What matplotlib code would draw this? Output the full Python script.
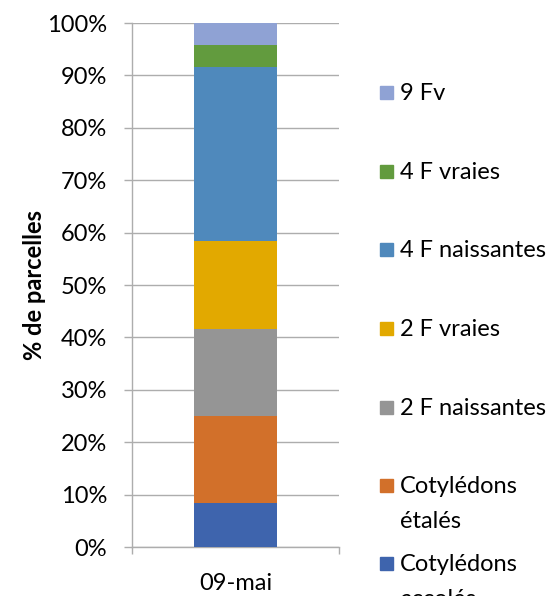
import matplotlib.pyplot as plt
from matplotlib.patches import Rectangle

# Stages, bottom to top, as % of plots (24 plots)
stages = ["Cotylédons\naccolés", "Cotylédons\nétalés", "2 F naissantes", "2 F vraies",
          "4 F naissantes", "4 F vraies", "9 Fv"]
values = [8.33, 16.67, 16.67, 16.67, 33.33, 4.17, 4.17]
colors = ["#3E64AD", "#D2702A", "#959595", "#E2A900", "#4F89BC", "#629B3E", "#8FA2D4"]
category = ["09-mai"]
yticks = list(range(0, 101, 10))

plt.rcParams["font.family"] = ["Lato", "DejaVu Sans"]
FS = 17

fig = plt.figure(figsize=(5.48, 5.96), dpi=100)
ax = fig.add_axes([0.2409, 0.0822, 0.3777, 0.8792])

bottom = 0
for v, c in zip(values, colors):
    ax.bar(0, v, bottom=bottom, width=0.4, color=c, zorder=3)
    bottom += v

grid_c = "#ADADAD"
ax.set_xlim(-0.5, 0.5)
ax.set_ylim(0, 100)
ax.set_yticks(yticks)
ax.set_yticklabels([f"{t}%" for t in yticks], fontsize=FS)
ax.yaxis.grid(True, color=grid_c, linewidth=1.0, zorder=0)
ax.tick_params(axis="y", length=5.8, color=grid_c, width=1.0, pad=12)
ax.set_xticks([0])
ax.set_xticklabels(category, fontsize=FS)
ax.tick_params(axis="x", length=0, pad=19)
for s in ["top", "right"]:
    ax.spines[s].set_visible(False)
for s in ["left", "bottom"]:
    ax.spines[s].set_color(grid_c)
    ax.spines[s].set_linewidth(1.0)
# category boundary ticks on x axis
ax.set_xticks([-0.5, 0.5], minor=True)
ax.tick_params(axis="x", which="minor", length=5, color=grid_c, width=1.0)

ax.set_ylabel("% de parcelles", fontsize=FS, fontweight="bold", labelpad=1)

# legend, drawn top to bottom, one text per line
legend_y = [92, 171, 249, 328, 407, 485, 563]
line_step = 35
for i, (lab, c) in enumerate(zip(stages[::-1], colors[::-1])):
    yp = legend_y[i]
    fig.patches.append(Rectangle((380 / 548, 1 - (yp + 7) / 596), 13 / 548, 13 / 596,
                                 transform=fig.transFigure, color=c))
    for j, line in enumerate(lab.split("\n")):
        fig.text(400 / 548, 1 - (yp + j * line_step + 8) / 596, line, fontsize=FS,
                 va="baseline", ha="left")

fig.savefig("out.png", dpi=100)
